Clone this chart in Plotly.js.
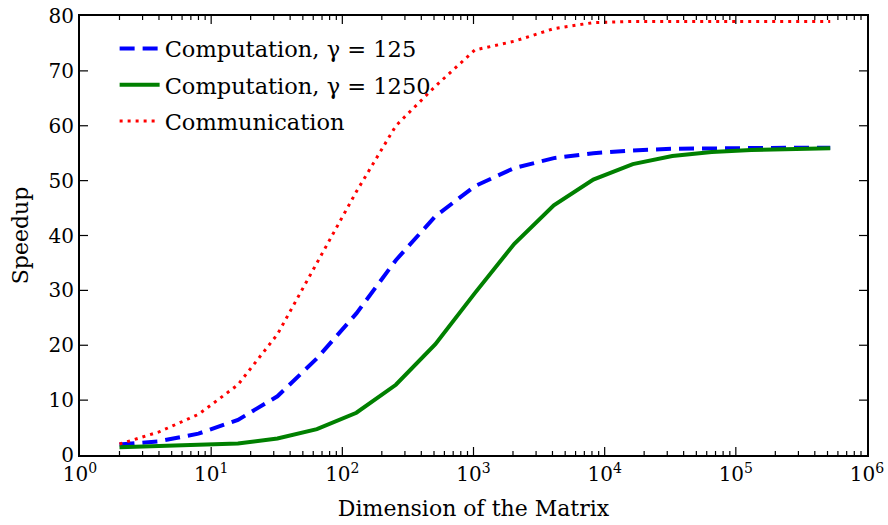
<!DOCTYPE html>
<html>
<head>
<meta charset="utf-8">
<script src="https://cdn.plot.ly/plotly-3.0.1.min.js"></script>
<style>html,body{margin:0;padding:0;background:#fff;}#chart{width:888px;height:525px;}</style>
</head>
<body>
<div id="chart"></div>
<script>
// Matrix dimensions: powers of two, 2^1 .. 2^19
const dims = [2, 4, 8, 16, 32, 64, 128, 256, 512, 1024, 2048, 4096, 8192, 16384, 32768, 65536, 131072, 262144, 524288];

const comp125 = [1.9, 2.5, 3.9, 6.4, 10.7, 17.6, 25.8, 35.5, 43.5, 49.0, 52.3, 54.1, 55.0, 55.5, 55.8, 55.9, 56.0, 56.0, 56.0];
const comp1250 = [1.4, 1.6, 1.8, 2.1, 3.0, 4.7, 7.7, 12.8, 20.2, 29.5, 38.5, 45.5, 50.2, 53.0, 54.5, 55.2, 55.6, 55.8, 55.9];
const communication = [2.0, 4.2, 7.4, 12.8, 22.0, 35.0, 48.0, 60.0, 67.2, 73.8, 75.4, 77.7, 78.8, 79.0, 79.0, 79.0, 79.0, 79.0, 79.0];

const seriesNames = ['Computation, γ = 125', 'Computation, γ = 1250', 'Communication'];

const xTickVals = [1, 10, 100, 1000, 10000, 100000, 1000000];
const xTickText = ['10<sup>0</sup>', '10<sup>1</sup>', '10<sup>2</sup>', '10<sup>3</sup>', '10<sup>4</sup>', '10<sup>5</sup>', '10<sup>6</sup>'];
const xMinorDigits = [2, 3, 4, 5, 6, 7, 8, 9];
const yTickVals = [0, 10, 20, 30, 40, 50, 60, 70, 80];

const FONT = 'DejaVu Serif, serif';

const traces = [
  {x: dims, y: comp125, name: seriesNames[0], mode: 'lines', legendgroup: 'a',
   line: {color: '#0000ff', width: 4, dash: '15px,8px'}},
  {x: dims, y: comp1250, name: seriesNames[1], mode: 'lines', legendgroup: 'b',
   line: {color: '#008000', width: 4}},
  {x: dims, y: communication, name: seriesNames[2], mode: 'lines', legendgroup: 'c',
   line: {color: '#ff0000', width: 3, dash: '3px,5px'}}
];

// Inside tick marks on all four sides (drawn as axis-anchored shapes)
const tickShapes = [];
const tickLine = {color: '#000', width: 1.2};
function xTick(v, len) {
  tickShapes.push({type: 'line', xref: 'x', yref: 'paper', ysizemode: 'pixel', yanchor: 0,
                   x0: v, x1: v, y0: 0, y1: len, line: tickLine, layer: 'above'});
  tickShapes.push({type: 'line', xref: 'x', yref: 'paper', ysizemode: 'pixel', yanchor: 1,
                   x0: v, x1: v, y0: 0, y1: -len, line: tickLine, layer: 'above'});
}
function yTick(v, len) {
  tickShapes.push({type: 'line', xref: 'paper', yref: 'y', xsizemode: 'pixel', xanchor: 0,
                   x0: 0, x1: len, y0: v, y1: v, line: tickLine, layer: 'above'});
  tickShapes.push({type: 'line', xref: 'paper', yref: 'y', xsizemode: 'pixel', xanchor: 1,
                   x0: 0, x1: -len, y0: v, y1: v, line: tickLine, layer: 'above'});
}
xTickVals.slice(1, -1).forEach(v => xTick(v, 8));
xTickVals.slice(0, -1).forEach(v => xMinorDigits.forEach(d => xTick(v * d, 4)));
yTickVals.slice(1, -1).forEach(v => yTick(v, 8));

const axisCommon = {
  showgrid: false, zeroline: false, showline: true, linecolor: '#000', linewidth: 2,
  mirror: true, ticks: '',
  tickfont: {family: FONT, size: 20, color: '#000'}
};

const layout = {
  width: 888, height: 525,
  margin: {l: 80, r: 21, t: 16, b: 70},
  paper_bgcolor: '#fff', plot_bgcolor: '#fff',
  font: {family: FONT, color: '#000'},
  showlegend: true,
  legend: {x: 0.044, y: 0.974, xanchor: 'left', yanchor: 'top', bgcolor: 'rgba(0,0,0,0)',
           borderwidth: 0, font: {family: FONT, size: 22.5, color: '#000'}, itemwidth: 40,
           tracegroupgap: 4},
  shapes: tickShapes,
  xaxis: Object.assign({}, axisCommon, {
    type: 'log', range: [0, 6], tickmode: 'array', tickvals: xTickVals, ticktext: xTickText,
    title: {text: 'Dimension of the Matrix', font: {family: FONT, size: 22, color: '#000'}, standoff: 16}
  }),
  yaxis: Object.assign({}, axisCommon, {
    range: [0, 80], tickmode: 'array', tickvals: yTickVals,
    title: {text: 'Speedup', font: {family: FONT, size: 22, color: '#000'}, standoff: 14}
  })
};

Plotly.newPlot('chart', traces, layout, {displayModeBar: false, staticPlot: true});
</script>
</body>
</html>
